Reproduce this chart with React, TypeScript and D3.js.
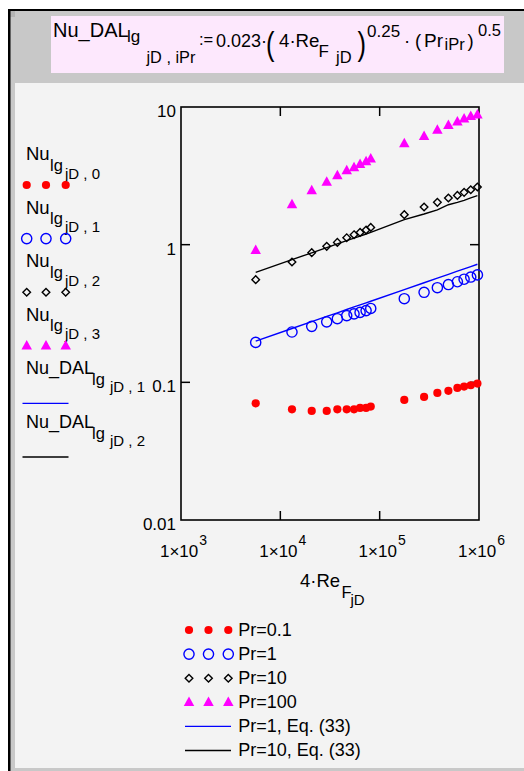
import React from "react";
import * as d3 from "d3";

const reX = [5650, 13100, 20700, 29300, 37500, 46600, 55200, 63500, 73000, 81300, 177000, 280000, 381000, 492000, 606000, 708000, 826000, 964000];
const nuPr01 = [0.0704, 0.0637, 0.062, 0.062, 0.0637, 0.0637, 0.0637, 0.0652, 0.0652, 0.0667, 0.0745, 0.0783, 0.0838, 0.0867, 0.0911, 0.0931, 0.0952, 0.0979];
const nuPr1 = [0.195, 0.232, 0.255, 0.275, 0.29, 0.305, 0.314, 0.322, 0.332, 0.344, 0.405, 0.451, 0.487, 0.513, 0.538, 0.561, 0.582, 0.603];
const nuPr10 = [0.557, 0.748, 0.875, 0.972, 1.039, 1.124, 1.182, 1.228, 1.279, 1.335, 1.652, 1.879, 2.029, 2.183, 2.28, 2.398, 2.508, 2.624];
const nuPr100 = [0.909, 1.952, 2.467, 2.85, 3.17, 3.45, 3.62, 3.83, 4.01, 4.19, 5.41, 6.11, 6.8, 7.35, 7.78, 8.18, 8.55, 8.75];
const eqPr1 = [0.199, 0.246, 0.276, 0.301, 0.32, 0.338, 0.353, 0.365, 0.378, 0.388, 0.472, 0.529, 0.571, 0.609, 0.642, 0.667, 0.693, 0.721];
const eqPr10 = [0.63, 0.778, 0.873, 0.952, 1.012, 1.069, 1.116, 1.154, 1.195, 1.227, 1.52, 1.67, 1.79, 1.95, 2.03, 2.1, 2.19, 2.27];

const xTicks = [1e3, 1e4, 1e5, 1e6];
const xTickExp = ["3", "4", "5", "6"];
const yTicks = [0.01, 0.1, 1, 10];
const yTickLabels = ["0.01", "0.1", "1", "10"];
const leftLegendSub = ["0", "1", "2", "3"];
const bottomLegend = ["Pr=0.1", "Pr=1", "Pr=10", "Pr=100", "Pr=1, Eq. (33)", "Pr=10, Eq. (33)"];

const FONT = "'Liberation Sans', Arial, sans-serif";
const RED = "#ff0000";
const BLUE = "#0000ff";
const MAG = "#ff00ff";

const diamondPath = (h: number) => `M0,${-h}L${h},0L0,${h}L${-h},0Z`;
const triPath = (w: number, hgt: number) => `M0,${-hgt * 0.62}L${w / 2},${hgt * 0.38}L${-w / 2},${hgt * 0.38}Z`;

function Marker({ kind, x, y }: { kind: number; x: number; y: number }) {
  if (kind === 0) return <circle cx={x} cy={y} r={4.1} fill={RED} />;
  if (kind === 1) return <circle cx={x} cy={y} r={5.1} fill="none" stroke={BLUE} strokeWidth={1.4} />;
  if (kind === 2) return <path d={diamondPath(3.8)} transform={`translate(${x},${y})`} fill="none" stroke="#000" strokeWidth={1.4} />;
  return <path d={triPath(10.5, 9.5)} transform={`translate(${x},${y})`} fill={MAG} />;
}

export default function App() {
  const x = d3.scaleLog().domain([1e3, 1e6]).range([181, 479]);
  const y = d3.scaleLog().domain([0.01, 10]).range([520, 107]);
  const line = d3.line<number>().x((_, i) => x(reX[i])).y((d) => y(d));
  const series = [nuPr01, nuPr1, nuPr10, nuPr100];

  return (
    <svg width={524} height={771} style={{ position: "absolute", left: 0, top: 0 }} fontFamily={FONT}>
      {/* background */}
      <rect x={0} y={0} width={524} height={771} fill="#ffffff" />
      <rect x={10} y={10} width={514} height={761} fill="#c8c8c8" />
      <rect x={10} y={11} width={5} height={6} fill="#b4b4b4" />
      <rect x={15} y={83} width={509} height={685} fill="#f3f3f3" />
      <rect x={8} y={9} width={516} height={2} fill="#000" />
      <rect x={8} y={9} width={2.5} height={762} fill="#000" />

      {/* header formula */}
      <rect x={51} y={16} width={453} height={57} fill="#fde8fd" />
      <g fill="#000">
        <text x={53} y={37} fontSize={20}>Nu_DAL</text>
        <text x={127} y={41.5} fontSize={17}>lg</text>
        <text x={146.5} y={63} fontSize={16.3}>jD , iPr</text>
        <text x={199} y={45} fontSize={16.5}>:=</text>
        <text x={216} y={46.7} fontSize={18}>0.023·</text>
        <text x={266} y={55} fontSize={34} transform="translate(266,55) scale(0.75,1) translate(-266,-55)">(</text>
        <text x={279} y={46.7} fontSize={18.7}>4·Re</text>
        <text x={318.5} y={56.5} fontSize={17}>F</text>
        <text x={336} y={63} fontSize={16.5}>jD</text>
        <text x={357.5} y={55} fontSize={34} transform="translate(357.5,55) scale(0.75,1) translate(-357.5,-55)">)</text>
        <text x={367} y={37} fontSize={17}>0.25</text>
        <text x={404} y={46.7} fontSize={18.5}>·</text>
        <text x={415} y={46.7} fontSize={18.5}>(</text>
        <text x={424} y={46.7} fontSize={19}>Pr</text>
        <text x={444.5} y={49.5} fontSize={16.5}>iPr</text>
        <text x={467.5} y={46.7} fontSize={18.5}>)</text>
        <text x={478} y={36} fontSize={16.5}>0.5</text>
      </g>

      {/* plot frame */}
      <rect x={181} y={107} width={298} height={413} fill="none" stroke="#000" strokeWidth={1.6} />
      {xTicks.map((t, i) => (
        <g key={"xt" + i}>
          {i > 0 && i < xTicks.length - 1 && (
            <>
              <line x1={x(t)} x2={x(t)} y1={520} y2={511} stroke="#000" strokeWidth={1.5} />
              <line x1={x(t)} x2={x(t)} y1={107} y2={116} stroke="#000" strokeWidth={1.5} />
            </>
          )}
          <text x={x(t) + 2.5} y={556.5} fontSize={17} textAnchor="middle">
            1×10<tspan dx={1} dy={-11.5} fontSize={14}>{xTickExp[i]}</tspan>
          </text>
        </g>
      ))}
      {yTicks.map((t, i) => (
        <g key={"yt" + i}>
          {i > 0 && i < yTicks.length - 1 && (
            <>
              <line x1={181} x2={190} y1={y(t)} y2={y(t)} stroke="#000" strokeWidth={1.5} />
              <line x1={479} x2={470} y1={y(t)} y2={y(t)} stroke="#000" strokeWidth={1.5} />
            </>
          )}
          <text x={176} y={y(t) + 10} fontSize={17} textAnchor="end">{yTickLabels[i]}</text>
        </g>
      ))}

      {/* x title */}
      <text x={300} y={586.7} fontSize={18.5}>4·Re</text>
      <text x={341.5} y={598} fontSize={16.5}>F</text>
      <text x={350.5} y={605} fontSize={15}>jD</text>

      {/* lines */}
      <path d={line(eqPr1) || ""} fill="none" stroke={BLUE} strokeWidth={1.4} />
      <path d={line(eqPr10) || ""} fill="none" stroke="#000" strokeWidth={1.4} />

      {/* markers */}
      {series.map((s, k) =>
        s.map((v, i) => <Marker key={`m${k}-${i}`} kind={k} x={x(reX[i])} y={y(v)} />)
      )}

      {/* left legend */}
      {leftLegendSub.map((s, k) => {
        const b = 160 + 53.6 * k;
        return (
          <g key={"ll" + k}>
            <text x={26} y={b} fontSize={18.5}>Nu</text>
            <text x={50} y={b + 10.5} fontSize={16.5}>lg</text>
            <text x={65} y={b + 18.5} fontSize={15}>jD , {s}</text>
            {[26.7, 46, 65.7].map((mx, j) => (
              <Marker key={j} kind={k} x={mx} y={b + 25} />
            ))}
          </g>
        );
      })}
      {["1", "2"].map((s, k) => {
        const b = 160 + 53.6 * (k + 4);
        return (
          <g key={"ld" + k}>
            <text x={26} y={b} fontSize={18}>Nu_DAL</text>
            <text x={92} y={b + 10.5} fontSize={16.5}>lg</text>
            <text x={110} y={b + 17.5} fontSize={15}>jD , {s}</text>
            <line x1={22.5} x2={68.5} y1={b + 29} y2={b + 29} stroke={k === 0 ? BLUE : "#000"} strokeWidth={1.4} />
          </g>
        );
      })}

      {/* bottom legend */}
      {bottomLegend.map((lab, k) => {
        const cy = 630 + 24.1 * k;
        return (
          <g key={"bl" + k}>
            {k < 4 ? (
              [189, 208.5, 228.3].map((mx, j) => <Marker key={j} kind={k} x={mx} y={cy} />)
            ) : (
              <line x1={185} x2={231} y1={cy} y2={cy} stroke={k === 4 ? BLUE : "#000"} strokeWidth={1.4} />
            )}
            <text x={238.3} y={cy + 5.5} fontSize={18}>{lab}</text>
          </g>
        );
      })}
    </svg>
  );
}
